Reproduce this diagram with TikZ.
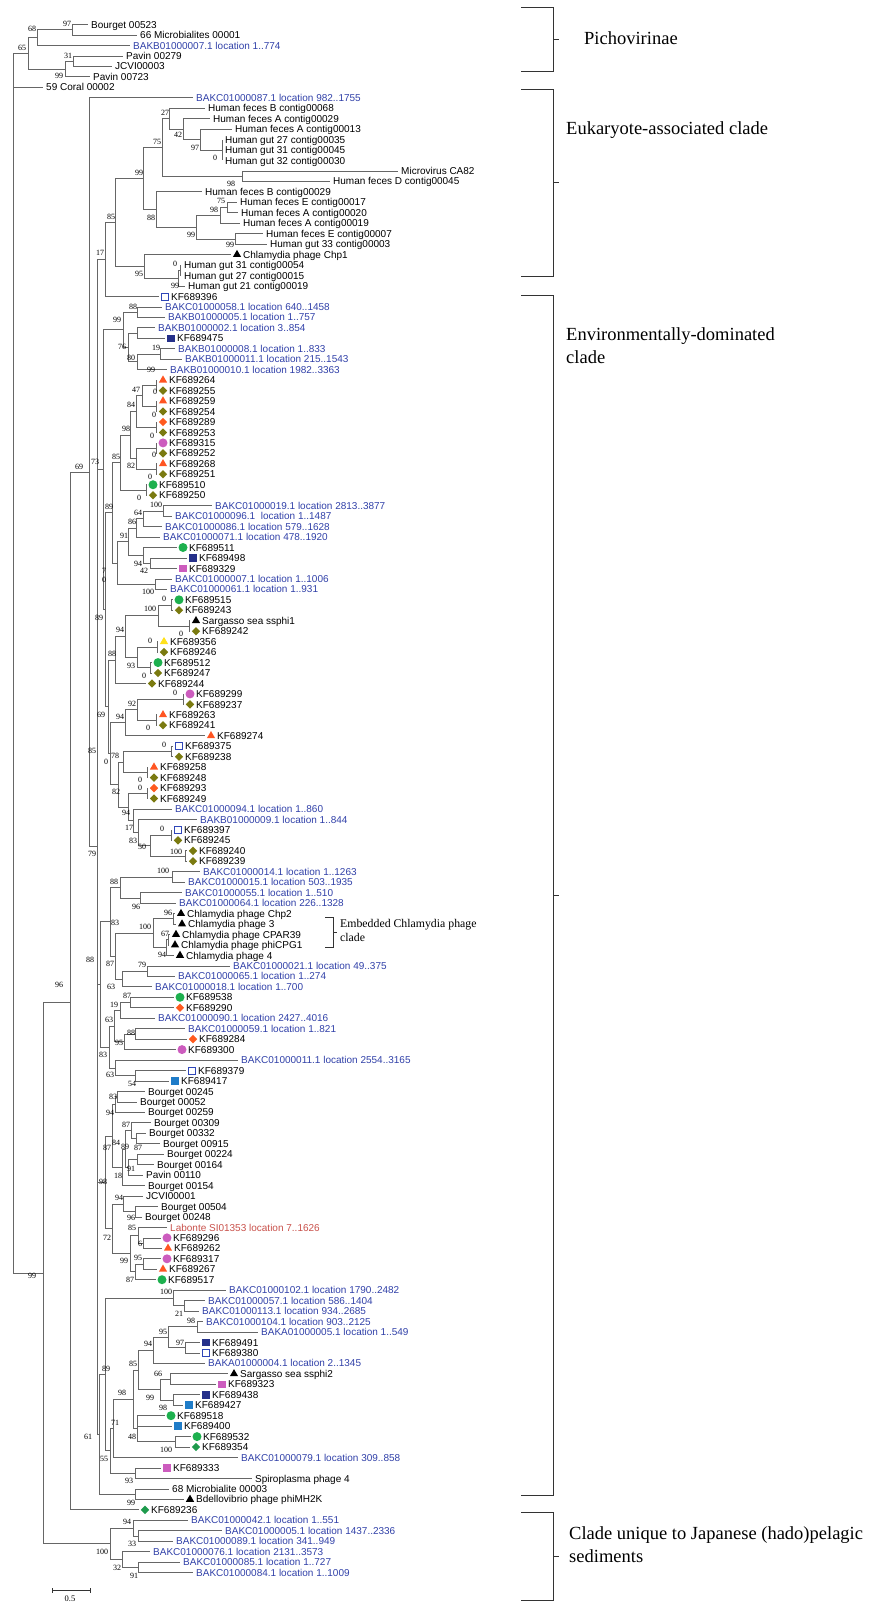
\documentclass[tikz,border=0pt]{standalone}
\usepackage{fontspec}
\setmainfont{Liberation Serif}
\newfontfamily\taxfont{Liberation Sans}
\usetikzlibrary{shapes.geometric}

\definecolor{branch}{HTML}{666666}
\definecolor{accblue}{HTML}{3040A8}
\definecolor{labred}{HTML}{C8504A}
\definecolor{mkred}{HTML}{FF5522}
\definecolor{mkyel}{HTML}{FFE11A}
\definecolor{mkolive}{HTML}{7A7A10}
\definecolor{mkorange}{HTML}{FF5A1E}
\definecolor{mkgreen}{HTML}{1DB04E}
\definecolor{mkdgreen}{HTML}{1E9A4C}
\definecolor{mkpink}{HTML}{CC5CBE}
\definecolor{mknavy}{HTML}{25308A}
\definecolor{mkazure}{HTML}{1F7CC8}
\definecolor{mkopen}{HTML}{2F46B8}

\tikzset{
	br/.style={draw=branch, line width=0.75pt},
	leaf/.style={anchor=base west, inner sep=0pt, font=\taxfont\fontsize{10}{12}\selectfont},
	ck/.style={text=black},
	cb/.style={text=accblue},
	cr/.style={text=labred},
	bs/.style={inner sep=0pt, font=\fontsize{8}{9}\selectfont},
	clade/.style={anchor=west, inner sep=0pt, align=left, font=\fontsize{18.5}{23}\selectfont},
	brk/.style={draw=black!80, line width=0.7pt},
	mk/.style={inner sep=0pt, draw=none},
	mtk/.style={mk, regular polygon, regular polygon sides=3, minimum size=9.5, fill=black},
	mtr/.style={mtk, fill=mkred},
	mty/.style={mtk, fill=mkyel},
	mdv/.style={mk, diamond, minimum size=8.5, fill=mkolive},
	mdr/.style={mdv, fill=mkorange},
	mdg/.style={mdv, fill=mkdgreen},
	mcg/.style={mk, circle, minimum size=9, fill=mkgreen},
	mcp/.style={mcg, fill=mkpink},
	msn/.style={mk, rectangle, minimum size=7.5, fill=mknavy},
	msa/.style={msn, fill=mkazure},
	msp/.style={msn, fill=mkpink},
	mso/.style={mk, rectangle, minimum size=7, draw=mkopen, line width=0.8pt, fill=white}
}

\begin{document}
\begin{tikzpicture}[x=1pt, y=-1pt, declare function={ry(\r)=24.5+(\r-1)*10.46;}]
	\useasboundingbox (0,0) rectangle (879,1605);
	\def\nomk{no}

	% leaves: row / tip x / marker / colour / label
	\foreach \r/\x/\m/\c/\t in {
		1/88/no/ck/Bourget 00523, 2/137/no/ck/66 Microbialites 00001,
		3/130/no/cb/BAKB01000007.1 location 1..774, 4/123/no/ck/Pavin 00279,
		5/112/no/ck/JCVI00003, 6/90/no/ck/Pavin 00723, 7/43/no/ck/59 Coral 00002,
		8/193/no/cb/BAKC01000087.1 location 982..1755,
		9/205/no/ck/Human feces B contig00068, 10/210/no/ck/Human feces A contig00029,
		11/232/no/ck/Human feces A contig00013, 12/222/no/ck/Human gut 27 contig00035,
		13/222/no/ck/Human gut 31 contig00045, 14/222/no/ck/Human gut 32 contig00030,
		15/398/no/ck/Microvirus CA82, 16/330/no/ck/Human feces D contig00045,
		17/202/no/ck/Human feces B contig00029, 18/237/no/ck/Human feces E contig00017,
		19/238/no/ck/Human feces A contig00020, 20/240/no/ck/Human feces A contig00019,
		21/263/no/ck/Human feces E contig00007, 22/267/no/ck/Human gut 33 contig00003,
		23/231/mtk/ck/Chlamydia phage Chp1, 24/181/no/ck/Human gut 31 contig00054,
		25/181/no/ck/Human gut 27 contig00015, 26/185/no/ck/Human gut 21 contig00019,
		27/159/mso/ck/KF689396,
		28/162/no/cb/BAKC01000058.1 location 640..1458, 29/165/no/cb/BAKB01000005.1 location 1..757,
		30/155/no/cb/BAKB01000002.1 location 3..854, 31/165/msn/ck/KF689475,
		32/175/no/cb/BAKB01000008.1 location 1..833, 33/182/no/cb/BAKB01000011.1 location 215..1543,
		34/167/no/cb/BAKB01000010.1 location 1982..3363,
		35/157/mtr/ck/KF689264, 36/157/mdv/ck/KF689255, 37/157/mtr/ck/KF689259,
		38/157/mdv/ck/KF689254, 39/157/mdr/ck/KF689289, 40/157/mdv/ck/KF689253,
		41/157/mcp/ck/KF689315, 42/157/mdv/ck/KF689252, 43/157/mtr/ck/KF689268,
		44/157/mdv/ck/KF689251, 45/147/mcg/ck/KF689510, 46/147/mdv/ck/KF689250,
		47/212/no/cb/BAKC01000019.1 location 2813..3877, 48/172/no/cb/BAKC01000096.1\ \ location 1..1487,
		49/162/no/cb/BAKC01000086.1 location 579..1628, 50/160/no/cb/BAKC01000071.1 location 478..1920,
		51/177/mcg/ck/KF689511, 52/187/msn/ck/KF689498, 53/177/msp/ck/KF689329,
		54/172/no/cb/BAKC01000007.1 location 1..1006, 55/167/no/cb/BAKC01000061.1 location 1..931,
		56/173/mcg/ck/KF689515, 57/173/mdv/ck/KF689243, 58/190/mtk/ck/Sargasso sea ssphi1,
		59/190/mdv/ck/KF689242, 60/158/mty/ck/KF689356, 61/158/mdv/ck/KF689246,
		62/152/mcg/ck/KF689512, 63/152/mdv/ck/KF689247, 64/146/mdv/ck/KF689244,
		65/184/mcp/ck/KF689299, 66/184/mdv/ck/KF689237, 67/157/mtr/ck/KF689263,
		68/157/mdv/ck/KF689241, 69/205/mtr/ck/KF689274, 70/173/mso/ck/KF689375,
		71/173/mdv/ck/KF689238, 72/148/mtr/ck/KF689258, 73/148/mdv/ck/KF689248,
		74/148/mdr/ck/KF689293, 75/148/mdv/ck/KF689249,
		76/172/no/cb/BAKC01000094.1 location 1..860, 77/197/no/cb/BAKB01000009.1 location 1..844,
		78/172/mso/ck/KF689397, 79/172/mdv/ck/KF689245, 80/187/mdv/ck/KF689240,
		81/187/mdv/ck/KF689239,
		82/200/no/cb/BAKC01000014.1 location 1..1263, 83/185/no/cb/BAKC01000015.1 location 503..1935,
		84/182/no/cb/BAKC01000055.1 location 1..510, 85/176/no/cb/BAKC01000064.1 location 226..1328,
		86/175/mtk/ck/Chlamydia phage Chp2, 87/176/mtk/ck/Chlamydia phage 3,
		88/170/mtk/ck/Chlamydia phage CPAR39, 89/169/mtk/ck/Chlamydia phage phiCPG1,
		90/174/mtk/ck/Chlamydia phage 4,
		91/230/no/cb/BAKC01000021.1 location 49..375, 92/175/no/cb/BAKC01000065.1 location 1..274,
		93/152/no/cb/BAKC01000018.1 location 1..700,
		94/174/mcg/ck/KF689538, 95/174/mdr/ck/KF689290,
		96/155/no/cb/BAKC01000090.1 location 2427..4016, 97/185/no/cb/BAKC01000059.1 location 1..821,
		98/187/mdr/ck/KF689284, 99/176/mcp/ck/KF689300,
		100/238/no/cb/BAKC01000011.1 location 2554..3165,
		101/186/mso/ck/KF689379, 102/169/msa/ck/KF689417,
		103/145/no/ck/Bourget 00245, 104/137/no/ck/Bourget 00052, 105/145/no/ck/Bourget 00259,
		106/151/no/ck/Bourget 00309, 107/146/no/ck/Bourget 00332, 108/160/no/ck/Bourget 00915,
		109/164/no/ck/Bourget 00224, 110/154/no/ck/Bourget 00164, 111/143/no/ck/Pavin 00110,
		112/145/no/ck/Bourget 00154, 113/143/no/ck/JCVI00001, 114/158/no/ck/Bourget 00504,
		115/142/no/ck/Bourget 00248, 116/167/no/cr/Labonte SI01353 location 7..1626,
		117/161/mcp/ck/KF689296, 118/162/mtr/ck/KF689262, 119/161/mcp/ck/KF689317,
		120/157/mtr/ck/KF689267, 121/156/mcg/ck/KF689517,
		122/226/no/cb/BAKC01000102.1 location 1790..2482, 123/205/no/cb/BAKC01000057.1 location 586..1404,
		124/199/no/cb/BAKC01000113.1 location 934..2685, 125/203/no/cb/BAKC01000104.1 location 903..2125,
		126/258/no/cb/BAKA01000005.1 location 1..549,
		127/200/msn/ck/KF689491, 128/200/mso/ck/KF689380,
		129/205/no/cb/BAKA01000004.1 location 2..1345,
		130/228/mtk/ck/Sargasso sea ssphi2, 131/216/msp/ck/KF689323, 132/200/msn/ck/KF689438,
		133/183/msa/ck/KF689427, 134/165/mcg/ck/KF689518, 135/172/msa/ck/KF689400,
		136/191/mcg/ck/KF689532, 137/190/mdg/ck/KF689354,
		138/238/no/cb/BAKC01000079.1 location 309..858,
		139/161/msp/ck/KF689333, 140/252/no/ck/Spiroplasma phage 4,
		141/169/no/ck/68 Microbialite 00003, 142/184/mtk/ck/Bdellovibrio phage phiMH2K,
		143/139/mdg/ck/KF689236,
		144/188/no/cb/BAKC01000042.1 location 1..551, 145/222/no/cb/BAKC01000005.1 location 1437..2336,
		146/173/no/cb/BAKC01000089.1 location 341..949, 147/150/no/cb/BAKC01000076.1 location 2131..3573,
		148/180/no/cb/BAKC01000085.1 location 1..727, 149/193/no/cb/BAKC01000084.1 location 1..1009}{
		\coordinate (t\r) at (\x,{ry(\r)});
		\ifx\m\nomk
			\node[leaf,\c] (l\r) at ([shift={(3,3.6)}]t\r) {\t};
		\else
			\node[\m] (m\r) at ([shift={(6,0)}]t\r) {};
			\node[leaf,\c] (l\r) at ([shift={(12,3.6)}]t\r) {\t};
		\fi
	}

	% internal nodes: name / x / row
	\foreach \n/\x/\r in {
		root/13/3.75, n97a/72/1.5, n68/37/2.25, n31/73/4.5, n99a/65/5.25, n65/28/3.75,
		n99r/43/120.375, n96/70/94.5, n69a/89.5/43.81, n79/97/79.62,
		n0a/222/13, n97b/200/12, n42/183/11, n27/169/10, n98a/242/15.5, n75a/162/12.75,
		n75b/227/18.5, n98b/220/19.25, n99c/235/21.5, n99b/196/20.375, n88a/156/18.69,
		n99d/143/15.72, n0b/180/24.5, n99e/178/25.25, n95a/144/24.125, n85a/115/19.92,
		n17/105/23.46,
		n73/103/43.56, n88b/137/28.5, nU/137/30.5, n19a/160/32.5, n80/137/33.25,
		n76/128/31.875, n99g/123/30.19, n89w/105/56.94, n89b/112/47.67, n69w/108/66.23,
		n0c/156/35.5, n0d/156/37.5, n47/142/36.5, n0e/156/39.5, n84a/136/38, n0f/156/41.5,
		n0g/156/43.5, n82a/136/42.5, n98c/130/40.25, n0h/146/45.5, n85b/120/42.875,
		n100a/163/47.5, n64/143/48.25, n86/136/49.125, n42a/150/52.5, n94a/143/51.75,
		n91a/128/50.44, n100b/155/54.5, nC4/117/52.47,
		n0i/171/56.5, n0j/189/58.5, n100c/158/57.5, n0k/157/60.5, n0l/150/62.5,
		n93a/137/61.5, n94b/125/59.5, n88c/115/61.75,
		n0m/183/65.5, n0n/156/67.5, n92/137/66.5, n94c/125/67.75, n0o/171/70.5,
		n0p/147/72.5, n78/123/71.5, n0q/147/74.5, n0r/171/78.5, n100d/185/80.5,
		n50/150/79.5, n83a/138/78.25, n17b/133/77.125, n94d/128/75.81, n82b/118/73.66,
		n0s/110/70.7, n88w/100/92.77,
		n100e/172/82.5, n96a/140/84.5, n88d/120/83.5, n96b/173/86.5, n67/168/88.5,
		n94e/166/89.25, n100f/153/87.875, n79b/147/91.5, n63a/122/92.25, n87a/115/90.06,
		n83b/110/86.78,
		n87b/130/94.5, n19b/120/95.25, n88e/135/97.5, n95b/124/98.25, n63b/114/96.75,
		n54/135/101.5, n63c/115/100.75, n83c/109/98.75, n98d/105/111.69,
		n83d/117/103.5, n94f/115/104.25, n87d/136/107.5, n87c/131/106.75, nZ/137/109.5,
		n91b/128/110.25, n89c/125/108.5, n18/122/110.25, n84b/112/107.25,
		n96c/135/114.5, n94g/123/113.75, n6/143/117.5, n85c/138/116.75, n95c/143/119.5,
		n87e/135/120.25, n99h/130/118.5, n72/112/116.125,
		n21/184/123.5, n100g/173/122.75, n98e/197/125.5, n97c/185/127.5, n95d/168/126.5,
		n94h/153/127.75, n66/170/130.5, n98f/173/132.5, n99i/160/131.5, n85d/138/129.625,
		n100h/175/136.5, n48/137/135.25, n98g/133/132.44, n71/113/135.22, n93b/135/139.5,
		n55/110/137.36, n89a/105/130.05, n99j/135/141.5, n61/99/135.78,
		n33/138/145.5, n94i/133/144.75, n91c/138/148.5, n32/122/147.75, n100j/110/146.25}
		\coordinate (\n) at (\x,{ry(\r)});

	% branches
	\foreach \p/\c in {
		root/n65, root/t7, root/n99r,
		n65/n68, n65/n99a, n68/n97a, n68/t3, n97a/t1, n97a/t2, n99a/n31, n99a/t6, n31/t4, n31/t5,
		n99r/n96, n99r/n100j, n96/n69a, n96/t143, n69a/t8, n69a/n79,
		n79/n17, n79/n73, n79/n88w, n79/n98d, n79/n61,
		n17/n85a, n17/t27, n85a/n99d, n85a/n95a, n99d/n75a, n99d/n88a, n75a/n27, n75a/n98a,
		n27/t9, n27/n42, n42/t10, n42/n97b, n97b/t11, n97b/n0a, n0a/t12, n0a/t13, n0a/t14,
		n98a/t15, n98a/t16, n88a/t17, n88a/n99b, n99b/n98b, n99b/n99c, n98b/n75b, n98b/t20,
		n75b/t18, n75b/t19, n99c/t21, n99c/t22, n95a/t23, n95a/n99e, n99e/n0b, n99e/t26,
		n0b/t24, n0b/t25,
		n73/n99g, n73/n89w,
		n99g/n88b, n99g/n76, n88b/t28, n88b/t29, n76/nU, n76/n80, nU/t30, nU/t31,
		n80/n19a, n80/t34, n19a/t32, n19a/t33,
		n89w/n89b, n89w/n69w, n89b/n85b, n89b/nC4,
		n85b/n98c, n85b/n0h, n98c/n84a, n98c/n82a, n84a/n47, n84a/n0e, n47/n0c, n47/n0d,
		n0c/t35, n0c/t36, n0d/t37, n0d/t38, n0e/t39, n0e/t40, n82a/n0f, n82a/n0g,
		n0f/t41, n0f/t42, n0g/t43, n0g/t44, n0h/t45, n0h/t46,
		nC4/n91a, nC4/n100b, n91a/n86, n91a/n94a, n86/n64, n86/t50, n64/n100a, n64/t49,
		n100a/t47, n100a/t48, n94a/t51, n94a/n42a, n42a/t52, n42a/t53, n100b/t54, n100b/t55,
		n69w/n88c, n69w/n0s,
		n88c/n94b, n88c/t64, n94b/n100c, n94b/n93a, n100c/n0i, n100c/n0j, n0i/t56, n0i/t57,
		n0j/t58, n0j/t59, n93a/n0k, n93a/n0l, n0k/t60, n0k/t61, n0l/t62, n0l/t63,
		n0s/n94c, n0s/n82b, n94c/n92, n94c/t69, n92/n0m, n92/n0n, n0m/t65, n0m/t66,
		n0n/t67, n0n/t68, n82b/n78, n82b/n94d, n78/n0o, n78/n0p, n0o/t70, n0o/t71,
		n0p/t72, n0p/t73, n94d/n0q, n94d/n17b, n0q/t74, n0q/t75, n17b/t76, n17b/n83a,
		n83a/t77, n83a/n50, n50/n0r, n50/n100d, n0r/t78, n0r/t79, n100d/t80, n100d/t81,
		n88w/n83b, n88w/n83c,
		n83b/n88d, n83b/n87a, n88d/n100e, n88d/n96a, n100e/t82, n100e/t83, n96a/t84, n96a/t85,
		n87a/n100f, n87a/n63a, n100f/n96b, n100f/n94e, n96b/t86, n96b/t87, n94e/n67, n94e/t90,
		n67/t88, n67/t89, n63a/n79b, n63a/t93, n79b/t91, n79b/t92,
		n83c/n63b, n83c/n63c, n63b/n19b, n63b/n95b, n19b/n87b, n19b/t96, n87b/t94, n87b/t95,
		n95b/n88e, n95b/t99, n88e/t97, n88e/t98, n63c/t100, n63c/n54, n54/t101, n54/t102,
		n98d/n84b, n98d/n72,
		n84b/n94f, n84b/n18, n94f/n83d, n94f/t105, n83d/t103, n83d/t104, n18/n89c, n18/t112,
		n89c/n87c, n89c/n91b, n87c/t106, n87c/n87d, n87d/t107, n87d/t108, n91b/nZ, n91b/t111,
		nZ/t109, nZ/t110,
		n72/n94g, n72/n99h, n94g/t113, n94g/n96c, n96c/t114, n96c/t115, n99h/n85c, n99h/n87e,
		n85c/t116, n85c/n6, n6/t117, n6/t118, n87e/n95c, n87e/t121, n95c/t119, n95c/t120,
		n61/n89a, n61/n99j, n89a/n100g, n89a/n55, n100g/t122, n100g/n21, n21/t123, n21/t124,
		n55/n71, n55/n93b, n71/n98g, n71/t138, n98g/n85d, n98g/n48, n85d/n94h, n85d/n99i,
		n94h/n95d, n94h/t129, n95d/n98e, n95d/n97c, n98e/t125, n98e/t126, n97c/t127, n97c/t128,
		n99i/n66, n99i/n98f, n66/t130, n66/t131, n98f/t132, n98f/t133,
		n48/t134, n48/t135, n48/n100h, n100h/t136, n100h/t137, n93b/t139, n93b/t140,
		n99j/t141, n99j/t142,
		n100j/n94i, n100j/n32, n94i/t144, n94i/n33, n33/t145, n33/t146, n32/t147, n32/n91c,
		n91c/t148, n91c/t149}
		\draw[br] (\p) |- (\c);

	% bootstrap values
	\foreach \x/\y/\v [count=\i] in {
		67/23.5/97, 32/29/68, 22/48/65, 68/56/31, 59/76/99,
		165/113/27, 178/135/42, 157/142/75, 195/148/97, 215/158/0, 139/173/99, 231/184/98,
		221/201/75, 214/210/98, 151/218/88, 111/217/85, 191/235/99, 230/245/99, 100/253/17,
		175/264/0, 139/274/95, 175/286/99,
		133/307/88, 117/320/99, 122/347/76, 156/348/19, 131/358/80, 151/370/99, 136/390/47,
		155/392/0, 131/405/84, 154/415/0, 126/429/98, 152/436/0, 154/455/0, 116/457/85,
		131/466/82, 95/462/73, 79/467/69, 150/477/0, 139/498/0, 156/505/100, 109/507/89,
		138/513/64, 132/522/86, 124/536/91, 138/564/94, 144/571/42, 104/571/7, 104/580/0,
		148/592/100, 164/599/0, 150/609/100, 99/618/89, 120/630/94, 181/634/0, 150/641/0,
		112/654/88, 131/666/93, 144/676/0, 175/693/0, 132/704/92, 101/715/69, 120/717/94,
		148/728/0, 164/745/0, 92/751/85, 115/756/78, 106/762/0, 140/780/0, 140/788/0,
		116/792/82, 126/813/94, 129/828/17, 162/829/0, 133/841/83, 142/847/50, 176/852/100,
		92/854/79, 163/871/100, 114/882/88, 136/907/96, 168/913/96, 115/923/83, 145/927/100,
		165/934/67, 162/955/94, 90/960/88, 110/964/87, 142/965/79, 59/985/96, 111/987/63,
		127/996/87, 114/1005/19, 109/1020/63, 131/1033/88, 119/1043/95, 103/1055/83,
		110/1075/63, 132/1084/54,
		113/1097/83, 110/1113/94, 126/1125/87, 116/1143/84, 107/1148/87, 125/1147/89,
		138/1148/87, 131/1169/91, 118/1176/18, 103/1182/98, 119/1198/94, 131/1218/96,
		132/1228/85, 107/1238/72, 140/1244/6, 138/1258/95, 124/1261/99, 130/1280/87, 32/1276/99,
		166/1292/100, 179/1314/21, 191/1321/98, 163/1332/95, 180/1343/97, 148/1344/94,
		133/1364/85, 106/1369/89, 158/1374/66, 122/1393/98, 150/1398/99, 163/1408/98,
		115/1423/71, 132/1437/48, 88/1437/61, 166/1450/100, 104/1459/55, 129/1481/93,
		131/1503/99, 127/1522/94, 132/1544/33, 102/1552/100, 117/1568/32, 134/1576/91}
		\node[bs] (b\i) at (\x,\y) {\v};

	% clade brackets
	\draw[brk] (521,7) -- (553,7) -- (553,71) -- (521,71) (553,39) -- (559,39);
	\draw[brk] (521,89) -- (553,89) -- (553,276) -- (521,276) (553,182) -- (559,182);
	\draw[brk] (521,295) -- (553,295) -- (553,1495) -- (521,1495) (553,895) -- (559,895);
	\draw[brk] (521,1512) -- (553,1512) -- (553,1600) -- (521,1600) (553,1556) -- (559,1556);
	\draw[brk] (325,917) -- (333,917) -- (333,947) -- (325,947) (333,932) -- (337,932);

	\node[clade] (pich) at (584,38) {Pichovirinae};
	\node[clade] (euk) at (566,130) {Eukaryote-associated clade};
	\node[clade] (env) at (566,346) {Environmentally-dominated\\clade};
	\node[clade] (jap) at (569,1545) {Clade unique to Japanese (hado)pelagic\\sediments};
	\node[anchor=west, inner sep=0pt, align=left, font=\fontsize{11.8}{14}\selectfont] (emb)
		at (340,930) {Embedded Chlamydia phage\\clade};

	% scale bar
	\draw[brk] (52,1588) -- (52,1593) (52,1590.5) -- (90,1590.5) (90,1588) -- (90,1593);
	\node[bs, font=\fontsize{8.5}{9}\selectfont] (scale) at (70,1599) {0.5};
\end{tikzpicture}
\end{document}
